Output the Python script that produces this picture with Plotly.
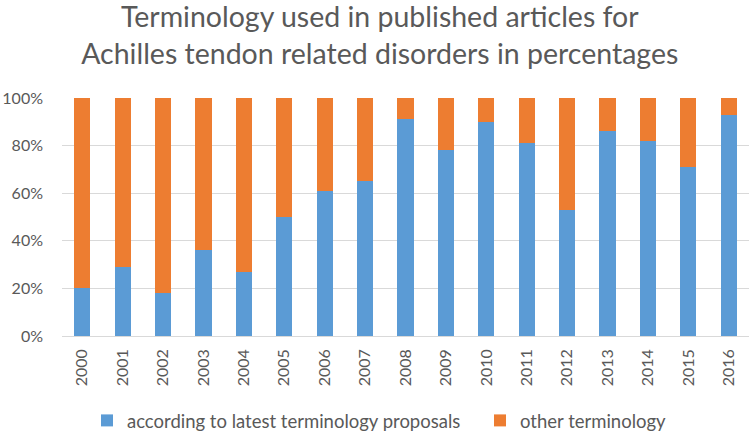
import plotly.graph_objects as go

years = [str(y) for y in range(2000, 2017)]
latest = [20, 29, 18, 36, 27, 50, 61, 65, 91, 78, 90, 81, 53, 86, 82, 71, 93]
other = [100 - v for v in latest]
series_names = ["according to latest terminology proposals", "other terminology"]
y_ticks = [0, 20, 40, 60, 80, 100]
y_tick_labels = ["0%", "20%", "40%", "60%", "80%", "100%"]

FONT = "Lato"
GRAY = "#595959"

fig = go.Figure()
fig.add_trace(go.Bar(x=years, y=latest, name=series_names[0], legend="legend", showlegend=True,
                     marker=dict(color="#5B9BD5", line=dict(width=0))))
fig.add_trace(go.Bar(x=years, y=other, name=series_names[1], legend="legend2", showlegend=True,
                     marker=dict(color="#ED7D31", line=dict(width=0))))

legend_common = dict(orientation="h", xanchor="left", y=0.028, yref="container",
                     xref="container", yanchor="middle", bgcolor="rgba(0,0,0,0)",
                     font=dict(size=18.5, color=GRAY), itemwidth=30)

fig.update_layout(
    width=749, height=433, showlegend=True,
    barmode="stack", bargap=0.6,
    plot_bgcolor="white", paper_bgcolor="white",
    margin=dict(l=62, r=0, t=98, b=97, autoexpand=False),
    font=dict(family=FONT, color=GRAY, size=16),
    title=dict(text="Terminology used in published articles for<br>Achilles tendon related disorders in percentages",
               x=0.507, xref="container", xanchor="center",
               y=0.937, yref="container", yanchor="middle",
               font=dict(family=FONT, size=28.5, color=GRAY)),
    legend=dict(x=87 / 749, **legend_common),
    legend2=dict(x=480 / 749, **legend_common),
    xaxis=dict(tickangle=-90, showgrid=False, ticks="", showline=False, automargin=False,
               tickfont=dict(size=16, color=GRAY), range=[-0.5, 16.5], ticklabelstandoff=9),
    yaxis=dict(range=[0, 100], tickvals=y_ticks, ticktext=y_tick_labels, automargin=False,
               showgrid=True, gridcolor="#D9D9D9", gridwidth=1,
               zeroline=True, zerolinecolor="#D9D9D9", zerolinewidth=1,
               tickfont=dict(size=16, color=GRAY), ticklabelstandoff=18),
)

fig.write_html("out.html", config={"displayModeBar": False},
               post_script="document.body.style.margin='0px';")
